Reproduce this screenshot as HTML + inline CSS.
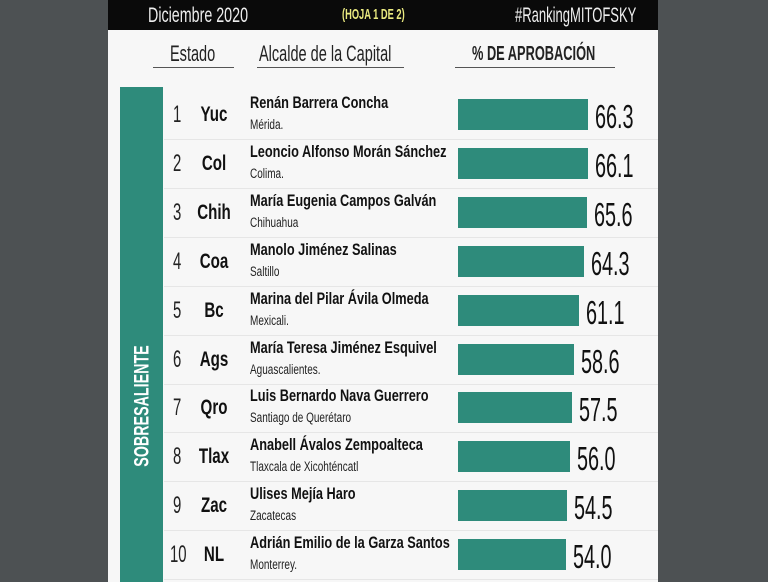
<!DOCTYPE html><html><head><meta charset="utf-8"><style>
body{margin:0;width:768px;height:582px;background:#4d5153;position:relative;overflow:hidden;font-family:"Liberation Sans",sans-serif}
.page{position:absolute;left:108px;top:0;width:550px;height:582px;background:#f7f7f7}
.top{position:absolute;left:108px;top:0;width:550px;height:30px;background:#0a0a0a}
.t{position:absolute;white-space:nowrap;transform-origin:0 50%;line-height:1}
.ln{position:absolute;height:1px;background:#555}
.bar{position:absolute;left:458px;height:31px;background:#2e8b7b}
.sep{position:absolute;left:164px;width:494px;height:1px;background:#e6e6e6}
</style></head><body>
<div class="page"></div>
<div class="top"></div>
<div class="t" style="left:148px;top:5px;font-size:21px;color:#eee;transform:scaleX(.68)">Diciembre 2020</div>
<div class="t" style="left:342px;top:7px;font-size:15px;font-weight:bold;color:#eaea80;transform:scaleX(.62)">(HOJA 1 DE 2)</div>
<div class="t" style="left:515px;top:5px;font-size:21px;color:#eee;transform:scaleX(.62)">#RankingMITOFSKY</div>
<div class="t" style="left:170px;top:43px;font-size:22px;color:#222;transform:scaleX(.66)">Estado</div>
<div class="t" style="left:259px;top:43px;font-size:22px;color:#222;transform:scaleX(.66)">Alcalde de la Capital</div>
<div class="t" style="left:472px;top:44px;font-size:20px;font-weight:bold;color:#222;transform:scaleX(.64)">% DE APROBACIÓN</div>
<div class="ln" style="left:153px;top:67px;width:81px"></div>
<div class="ln" style="left:257px;top:67px;width:147px"></div>
<div class="ln" style="left:455px;top:67px;width:160px"></div>
<div style="position:absolute;left:120px;top:87px;width:43px;height:495px;background:#2e8b7b"></div>
<div class="t" style="left:142px;top:406px;font-size:21px;font-weight:bold;color:#fff;transform:translate(-50%,-50%) rotate(-90deg) scaleX(.68);transform-origin:50% 50%">SOBRESALIENTE</div>
<div id="rows"></div>
<script>
var d=[["1","Yuc","Renán Barrera Concha","Mérida.",66.3],["2","Col","Leoncio Alfonso Morán Sánchez","Colima.",66.1],["3","Chih","María Eugenia Campos Galván","Chihuahua",65.6],["4","Coa","Manolo Jiménez Salinas","Saltillo",64.3],["5","Bc","Marina del Pilar Ávila Olmeda","Mexicali.",61.1],["6","Ags","María Teresa Jiménez Esquivel","Aguascalientes.",58.6],["7","Qro","Luis Bernardo Nava Guerrero","Santiago de Querétaro",57.5],["8","Tlax","Anabell Ávalos Zempoalteca","Tlaxcala de Xicohténcatl",56.0],["9","Zac","Ulises Mejía Haro","Zacatecas",54.5],["10","NL","Adrián Emilio de la Garza Santos","Monterrey.",54.0]];
var h="";d.forEach(function(r,i){var c=115+i*48.9;var w=130-(66.3-r[4])*1.79;
h+='<div class="sep" style="top:'+(c+24)+'px"></div>';
h+='<div class="t" style="left:'+(r[0].length>1?170:173)+'px;top:'+(c-12)+'px;font-size:24px;color:#222;transform:scaleX(.62)">'+r[0]+'</div>';
h+='<div class="t" style="left:214px;top:'+(c-11)+'px;font-size:21px;font-weight:bold;color:#111;transform:translateX(-50%) scaleX(.72);transform-origin:50% 50%">'+r[1]+'</div>';
h+='<div class="t" style="left:250px;top:'+(c-21)+'px;font-size:17px;font-weight:bold;color:#111;transform:scaleX(.75)">'+r[2]+'</div>';
h+='<div class="t" style="left:250px;top:'+(c+3)+'px;font-size:13.5px;color:#222;transform:scaleX(.74)">'+r[3]+'</div>';
h+='<div class="bar" style="top:'+(c-16)+'px;width:'+w+'px"></div>';
h+='<div class="t" style="left:'+(458+w+7)+'px;top:'+(c-15)+'px;font-size:33px;color:#111;transform:scaleX(.6)">'+r[4].toFixed(1)+'</div>';});
document.getElementById("rows").innerHTML=h;
</script>
</body></html>
